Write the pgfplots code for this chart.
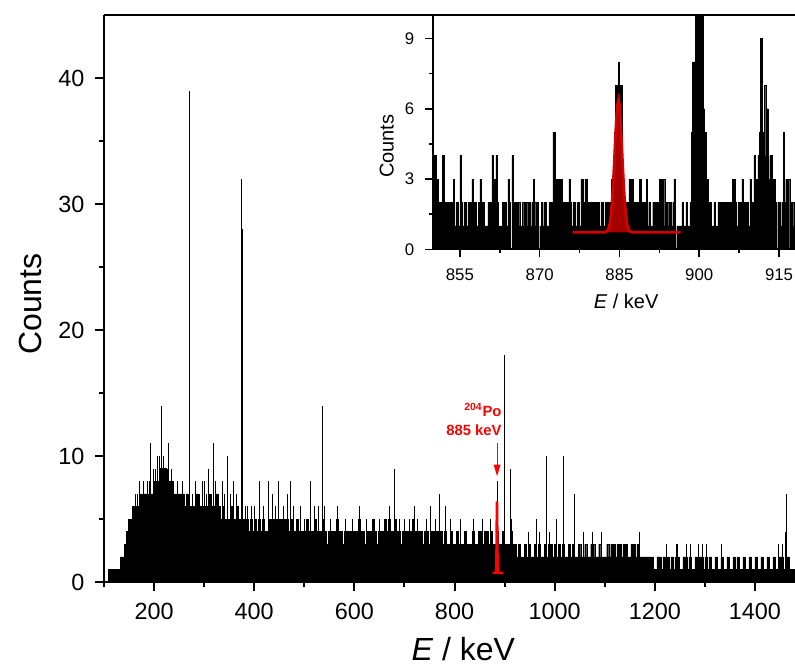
\documentclass[border=0pt]{standalone}
\usepackage{pgfplots}
\pgfplotsset{compat=1.18}
\usepackage{pgfplotstable}
\usepackage{fontspec}
\setmainfont{Liberation Sans}
\usetikzlibrary{arrows.meta}

\definecolor{fitline}{RGB}{215,0,0}
\definecolor{fitfill}{RGB}{165,0,0}

% Gaussian fit of the 885 keV line
\pgfplotstableread{
E c
876.2 0.72
882.2 0.73
882.5 0.75
882.8 0.82
883.0 0.93
883.2 1.14
883.4 1.49
883.6 2.03
883.8 2.77
884.0 3.67
884.2 4.66
884.4 5.55
884.6 6.17
884.8 6.40
885.0 6.17
885.2 5.55
885.4 4.66
885.6 3.67
885.8 2.77
886.0 2.03
886.2 1.49
886.4 1.14
886.6 0.93
886.8 0.82
887.1 0.75
887.4 0.73
896.5 0.72
}\fit

\pgfplotstableread{
E c
882.2 0.72
882.5 0.75
882.8 0.82
883.0 0.93
883.2 1.14
883.4 1.49
883.6 2.03
883.8 2.77
884.0 3.67
884.2 4.66
884.4 5.55
884.6 6.17
884.8 6.40
885.0 6.17
885.2 5.55
885.4 4.66
885.6 3.67
885.8 2.77
886.0 2.03
886.2 1.49
886.4 1.14
886.6 0.93
886.8 0.82
887.1 0.75
887.4 0.72
}\fitpeak

\begin{document}
\begin{tikzpicture}
\begin{axis}[
  at={(0,0)}, anchor=south west,
  scale only axis, width=345.5pt, height=283.5pt,
  xmin=100, xmax=1480, ymin=0, ymax=45,
  axis x line*=box, axis y line*=left,
  axis line style={-, line width=1.4pt},
  tick pos=left, tick align=outside,
  xtick={200,400,...,1400}, minor xtick={100,300,...,1500},
  ytick={0,10,20,30,40}, minor ytick={5,15,25,35},
  major tick length=4.5pt, minor tick length=2.5pt,
  every tick/.style={black, line width=1pt},
  /pgf/number format/1000 sep={},
  /pgf/number format/assume math mode=true,
  ticklabel style={font=\fontsize{11.7}{14}\selectfont},
  xticklabel style={yshift=-2.3pt},
  yticklabel style={xshift=-1.8pt},
  xlabel={\textit{E} / keV}, ylabel={Counts},
  xlabel style={at={(axis description cs:0.52,-0.1376)}, anchor=base, font=\fontsize{16}{19}\selectfont},
  ylabel style={at={(axis description cs:-0.107,0.49)}, anchor=center, font=\fontsize{16}{19}\selectfont},
]
% spectrum background, 4 keV bins
\addplot[const plot, fill=black, draw=black, line width=0.2pt] coordinates {
(100,0)(104,0)(108,1)(112,1)(116,1)(120,1)(124,1)(128,1)(132,2)(136,2)(140,3)(144,4)(148,5)(152,5)(156,6)(160,6)(164,6)(168,6)(172,7)(176,6)(180,7)(184,7)(188,7)(192,7)(196,7)
(200,8)(204,8)(208,8)(212,9)(216,8)(220,9)(224,8)(228,8)(232,8)(236,7)(240,7)(244,7)(248,7)(252,7)(256,7)(260,6)(264,7)(268,6)(272,6)(276,6)(280,6)(284,7)(288,6)(292,6)(296,6)
(300,6)(304,6)(308,7)(312,6)(316,6)(320,6)(324,7)(328,6)(332,5)(336,6)(340,5)(344,5)(348,5)(352,6)(356,5)(360,5)(364,6)(368,5)(372,5)(376,5)(380,4)(384,5)(388,4)(392,5)(396,4)
(400,5)(404,4)(408,5)(412,4)(416,5)(420,4)(424,4)(428,5)(432,5)(436,5)(440,5)(444,5)(448,5)(452,5)(456,4)(460,5)(464,5)(468,4)(472,5)(476,4)(480,4)(484,5)(488,4)(492,4)(496,4)
(500,4)(504,5)(508,4)(512,4)(516,4)(520,5)(524,4)(528,4)(532,4)(536,5)(540,4)(544,3)(548,4)(552,4)(556,4)(560,4)(564,5)(568,4)(572,4)(576,3)(580,4)(584,4)(588,4)(592,4)(596,4)
(600,4)(604,4)(608,5)(612,4)(616,4)(620,3)(624,4)(628,4)(632,4)(636,5)(640,4)(644,3)(648,4)(652,4)(656,4)(660,5)(664,4)(668,5)(672,4)(676,4)(680,5)(684,4)(688,4)(692,3)(696,4)
(700,4)(704,4)(708,3)(712,4)(716,5)(720,4)(724,4)(728,4)(732,4)(736,3)(740,4)(744,4)(748,3)(752,4)(756,4)(760,3)(764,4)(768,4)(772,4)(776,3)(780,4)(784,3)(788,3)(792,4)(796,3)
(800,3)(804,4)(808,3)(812,3)(816,3)(820,4)(824,3)(828,3)(832,3)(836,4)(840,3)(844,3)(848,4)(852,4)(856,3)(860,4)(864,4)(868,3)(872,4)(876,3)(880,3)(884,4)(888,3)(892,3)(896,4)
(900,3)(904,3)(908,3)(912,4)(916,3)(920,3)(924,2)(928,3)(932,2)(936,2)(940,3)(944,2)(948,3)(952,2)(956,2)(960,3)(964,2)(968,3)(972,2)(976,2)(980,3)(984,2)(988,3)(992,3)(996,2)
(1000,3)(1004,2)(1008,3)(1012,2)(1016,3)(1020,2)(1024,2)(1028,3)(1032,2)(1036,3)(1040,2)(1044,2)(1048,3)(1052,2)(1056,2)(1060,3)(1064,2)(1068,2)(1072,3)(1076,3)(1080,2)(1084,2)(1088,3)(1092,2)(1096,2)
(1100,2)(1104,3)(1108,2)(1112,3)(1116,3)(1120,2)(1124,3)(1128,3)(1132,2)(1136,3)(1140,3)(1144,2)(1148,2)(1152,3)(1156,3)(1160,2)(1164,3)(1168,2)(1172,2)(1176,2)(1180,2)(1184,2)(1188,2)(1192,2)(1196,1)
(1200,1)(1204,2)(1208,2)(1212,1)(1216,2)(1220,1)(1224,2)(1228,1)(1232,2)(1236,1)(1240,2)(1244,2)(1248,1)(1252,1)(1256,2)(1260,2)(1264,1)(1268,2)(1272,1)(1276,1)(1280,2)(1284,1)(1288,2)(1292,2)(1296,1)
(1300,2)(1304,1)(1308,2)(1312,1)(1316,1)(1320,2)(1324,1)(1328,1)(1332,2)(1336,1)(1340,1)(1344,2)(1348,1)(1352,1)(1356,2)(1360,1)(1364,2)(1368,1)(1372,1)(1376,2)(1380,1)(1384,1)(1388,2)(1392,1)(1396,1)
(1400,2)(1404,1)(1408,1)(1412,2)(1416,1)(1420,1)(1424,2)(1428,1)(1432,1)(1436,2)(1440,1)(1444,1)(1448,2)(1452,2)(1456,1)(1460,2)(1464,2)(1468,1)(1472,1)(1476,1)(1480,1)
} \closedcycle;
% narrow lines standing above the background
\addplot[ycomb, black, line width=0.5pt, mark=none] coordinates {
(162,7)(166,7)(170,8)(178,8)(186,8)(190,8)(193,11)(198,9)(202,9)(206,10)(210,10)(215,14)(219,10)(223,9)(226,9)(229,11)(234,9)(238,8)(246,8)(256,8)
(270,39)(270.6,28)(277,7)(283,8)(290,7)(296,8)(300,8)(305,7)(309,9)(314,7)(318,11)(322,8)(328,7)(336,8)(341,7)(346,10)(352,7)(358,8)(364,7)(368,6)
(375,32)(375.6,28)(382,6)(387,6)(395,6)(400,6)(410,8)(418,6)(429,8)(437,7)(442,6)(449,8)(458,6)(466,7)(472,8)(478,6)(492,6)(500,5)(513,8)(520,6)(528,6)
(536,14)(540,6)(552,5)(566,6)(582,5)(596,5)(610,6)(624,5)(638,5)(650,5)(661,5)(670,6)(681,9)(690,5)(700,5)(711,5)(720,6)(727,5)(744,5)(753,6)(762,5)
(771,7)(781,6)(791,5)(812,5)(837,5)(856,5)(872,5)(885,8)(900,18)(912,9)(914,5)(947,4)(963,5)(970,4)(983,10)(990,4)(1003,5)(1018,10)(1040,7)
(1057,4)(1076,4)(1093,4)(1170,4)(1224,3)(1243,3)(1246,3)(1264,3)(1271,3)(1287,3)(1296,3)(1304,3)(1334,3)(1447,3)(1455,3)(1460,4)(1462,7)
};
\addplot[red, line width=1.2pt, mark=none] table[x=E, y=c] {\fit};
\draw[red, line width=0.5pt, -{Triangle[width=3.4pt,length=5.8pt]}] (axis cs:885,11) -- (axis cs:885,8.4);
\node[red, anchor=base east, inner sep=0pt, font=\bfseries\fontsize{7.4}{9}\selectfont] at (axis cs:894.6,11.6) {885 keV};
\node[red, anchor=base east, inner sep=0pt, font=\bfseries\fontsize{7.4}{9}\selectfont] at (axis cs:894.6,13.1) {\textsuperscript{204}Po};
\end{axis}

% inset
\begin{axis}[
  at={(164.65pt,166.35pt)}, anchor=south west,
  scale only axis, width=180.85pt, height=117.15pt,
  xmin=850, xmax=918, ymin=0, ymax=10,
  axis x line*=bottom, axis y line*=left,
  axis line style={-, line width=1pt},
  tick align=outside,
  xtick={855,870,885,900,915}, minor xtick={862.5,877.5,892.5,907.5},
  ytick={0,3,6,9}, minor ytick={1.5,4.5,7.5},
  major tick length=4pt, minor tick length=2pt,
  every tick/.style={black, line width=0.8pt},
  /pgf/number format/assume math mode=true,
  ticklabel style={font=\fontsize{8.4}{10}\selectfont},
  xticklabel style={yshift=-2pt},
  yticklabel style={xshift=-2pt},
  xlabel={\textit{E} / keV}, ylabel={Counts},
  xlabel style={at={(axis description cs:0.533,-0.251)}, anchor=base, font=\fontsize{10}{12}\selectfont},
  ylabel style={at={(axis description cs:-0.129,0.44)}, anchor=center, font=\fontsize{10}{12}\selectfont},
]
% spectrum, 0.25 keV bins
\addplot[const plot, fill=black, draw=black, line width=0.15pt] coordinates {
(850,3)(850.25,4)(850.5,3)(850.75,3)(851,2)(851.25,1)(851.5,2)(851.75,4)(852,2)(852.25,1)(852.5,2)(852.75,1)(853,2)(853.25,2)(853.5,1)(853.75,3)
(854,1)(854.25,2)(854.5,2)(854.75,1)(855,4)(855.25,2)(855.5,1)(855.75,2)(856,2)(856.25,1)(856.5,2)(856.75,2)(857,2)(857.25,3)(857.5,1)(857.75,2)
(858,0)(858.25,1)(858.5,2)(858.75,3)(859,2)(859.25,2)(859.5,1)(859.75,1)(860,1)(860.25,2)(860.5,1)(860.75,2)(861,4)(861.25,3)(861.5,3)(861.75,4)
(862,2)(862.25,1)(862.5,1)(862.75,0)(863,2)(863.25,1)(863.5,2)(863.75,1)(864,3)(864.25,2)(864.5,0)(864.75,4)(865,2)(865.25,2)(865.5,1)(865.75,2)
(866,2)(866.25,1)(866.5,1)(866.75,2)(867,1)(867.25,2)(867.5,2)(867.75,1)(868,2)(868.25,1)(868.5,2)(868.75,3)(869,2)(869.25,1)(869.5,2)(869.75,0)
(870,1)(870.25,2)(870.5,1)(870.75,2)(871,2)(871.25,1)(871.5,1)(871.75,2)(872,2)(872.25,2)(872.5,5)(872.75,5)(873,3)(873.25,2)(873.5,3)(873.75,3)
(874,3)(874.25,2)(874.5,2)(874.75,1)(875,2)(875.25,2)(875.5,3)(875.75,2)(876,1)(876.25,2)(876.5,2)(876.75,1)(877,2)(877.25,2)(877.5,1)(877.75,3)
(878,3)(878.25,2)(878.5,3)(878.75,3)(879,2)(879.25,0)(879.5,2)(879.75,2)(880,1)(880.25,2)(880.5,2)(880.75,1)(881,2)(881.25,1)(881.5,2)(881.75,2)
(882,1)(882.25,2)(882.5,1)(882.75,2)(883,2)(883.25,2)(883.5,3)(883.75,3)(884,5)(884.25,7)(884.5,7)(884.75,8)(885,7)(885.25,7)(885.5,3)(885.75,2)
(886,2)(886.25,1)(886.5,2)(886.75,3)(887,2)(887.25,3)(887.5,2)(887.75,0)(888,2)(888.25,2)(888.5,1)(888.75,3)(889,2)(889.25,1)(889.5,2)(889.75,2)
(890,3)(890.25,1)(890.5,2)(890.75,1)(891,1)(891.25,2)(891.5,1)(891.75,2)(892,2)(892.25,1)(892.5,3)(892.75,3)(893,2)(893.25,3)(893.5,1)(893.75,2)
(894,2)(894.25,1)(894.5,2)(894.75,1)(895,2)(895.25,3)(895.5,0)(895.75,1)(896,0)(896.25,1)(896.5,1)(896.75,2)(897,1)(897.25,1)(897.5,2)(897.75,1)
(898,1)(898.25,2)(898.5,5)(898.75,8)(899,8)(899.25,11)(899.5,15)(899.75,18)(900,17)(900.25,14)(900.5,11)(900.75,6)(901,5)(901.25,3)(901.5,3)(901.75,2)
(902,2)(902.25,1)(902.5,1)(902.75,2)(903,1)(903.25,1)(903.5,2)(903.75,0)(904,2)(904.25,2)(904.5,1)(904.75,2)(905,2)(905.25,1)(905.5,2)(905.75,2)
(906,1)(906.25,3)(906.5,3)(906.75,2)(907,1)(907.25,2)(907.5,0)(907.75,2)(908,3)(908.25,1)(908.5,2)(908.75,1)(909,2)(909.25,1)(909.5,3)(909.75,2)
(910,2)(910.25,4)(910.5,2)(910.75,3)(911,4)(911.25,5)(911.5,9)(911.75,4)(912,5)(912.25,7)(912.5,4)(912.75,6)(913,3)(913.25,4)(913.5,4)(913.75,3)
(914,3)(914.25,2)(914.5,0)(914.75,2)(915,2)(915.25,1)(915.5,2)(915.75,5)(916,2)(916.25,3)(916.5,2)(916.75,3)(917,0)(917.25,2)(917.5,2)(917.75,1)(918,1)
} \closedcycle;
\addplot[fill=fitfill, draw=none] table[x=E, y=c] {\fitpeak} -- cycle;
\addplot[fitline, line width=1.3pt, mark=none] table[x=E, y=c] {\fit};
\end{axis}

\pgfresetboundingbox
\path[use as bounding box] (-52pt,-42pt) rectangle (345.5pt,291pt);
\end{tikzpicture}
\end{document}
